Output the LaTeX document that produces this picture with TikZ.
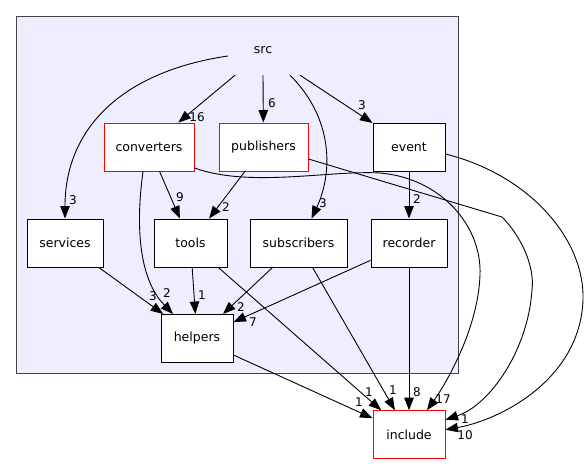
\documentclass[tikz,border=0pt]{standalone}
\usepackage{fontspec}
\setmainfont{DejaVu Sans}
\usetikzlibrary{arrows.meta}
\definecolor{clusterfill}{HTML}{EEEEFF}
\definecolor{clusterline}{HTML}{444444}

\begin{document}
\begin{tikzpicture}[x=1pt,y=-1pt,
  dir/.style={draw=black,fill=white,line width=1pt,minimum height=48pt,inner sep=0pt,font=\fontsize{12.5}{14}\selectfont},
  reddir/.style={dir,draw=red},
  dep/.style={-{Triangle[length=12.5pt,width=9.5pt]},line width=0.9pt},
  num/.style={font=\fontsize{12}{14}\selectfont,inner sep=0pt}]
  \useasboundingbox (0,0) rectangle (588,464);
  \draw[clusterline,fill=clusterfill,line width=1pt] (16,16) rectangle (458,373);
  \node[minimum width=70pt,minimum height=50pt,inner sep=0pt,font=\fontsize{12.5}{14}\selectfont] (src) at (263,50) {src};
  \node[reddir,minimum width=90pt] (converters) at (149,147) {converters};
  \node[reddir,minimum width=89pt] (publishers) at (263.5,147) {publishers};
  \node[dir,minimum width=72pt] (event) at (409,147) {event};
  \node[dir,minimum width=76pt] (services) at (65,243) {services};
  \node[dir,minimum width=73pt] (tools) at (190.5,243) {tools};
  \node[dir,minimum width=97pt] (subscribers) at (298.5,243) {subscribers};
  \node[dir,minimum width=76pt] (recorder) at (409,243) {recorder};
  \node[dir,minimum width=72pt] (helpers) at (197,338.5) {helpers};
  \node[reddir,minimum width=72pt] (include) at (409,434.7) {include};
  \draw[dep] ([xshift=-28pt]src.south) -- (converters) node[num] at (197,117) {16};
  \draw[dep] (src.south) -- (publishers) node[num] at (272,103) {6};
  \draw[dep] ([yshift=-6pt]src.west) .. controls (120,72) and (65,130) .. (services) node[num] at (73,200) {3};
  \draw[dep] ([xshift=27pt]src.south) .. controls (335,120) and (332,175) .. ([xshift=13pt]subscribers.north) node[num] at (323,203) {3};
  \draw[dep] ([xshift=37pt]src.south) -- (event) node[num] at (362,105) {3};
  \draw[dep] (converters) -- (tools) node[num] at (180,197) {9};
  \draw[dep] ([xshift=-6pt]converters.south) .. controls (135,230) and (140,280) .. ([xshift=-24pt]helpers.north) node[num] at (167,293) {2};
  \draw[dep] ([yshift=-21pt]converters.east) .. controls (250,188) and (330,170) .. (380,173) .. controls (440,178) and (482,225) .. (480,275) .. controls (478,330) and (445,385) .. ([xshift=18pt]include.north) node[num] at (443,399) {17};
  \draw[dep] (publishers) -- (tools) node[num] at (226,207) {2};
  \draw[dep] ([yshift=-12pt]publishers.east) -- (502,217) .. controls (520,235) and (535,265) .. (532,290) .. controls (528,350) and (490,405) .. ([yshift=15pt]include.east) node[num] at (465,419) {1};
  \draw[dep] (event) -- (recorder) node[num] at (417,199) {2};
  \draw[dep] ([yshift=-7pt]event.east) .. controls (530,175) and (585,240) .. (583,300) .. controls (580,380) and (500,420) .. ([yshift=5pt]include.east) node[num] at (465,435) {10};
  \draw[dep] (services) -- (helpers) node[num] at (153,296) {3};
  \draw[dep] (tools) -- (helpers) node[num] at (202,295) {1};
  \draw[dep] (tools) -- (include) node[num] at (369,392) {1};
  \draw[dep] (subscribers) -- (helpers) node[num] at (241,307) {2};
  \draw[dep] (subscribers) -- (include) node[num] at (393,390) {1};
  \draw[dep] (recorder) -- (helpers) node[num] at (253,322) {7};
  \draw[dep] (recorder) -- (include) node[num] at (417,392) {8};
  \draw[dep] (helpers) -- (include) node[num] at (359,402) {1};
\end{tikzpicture}
\end{document}
